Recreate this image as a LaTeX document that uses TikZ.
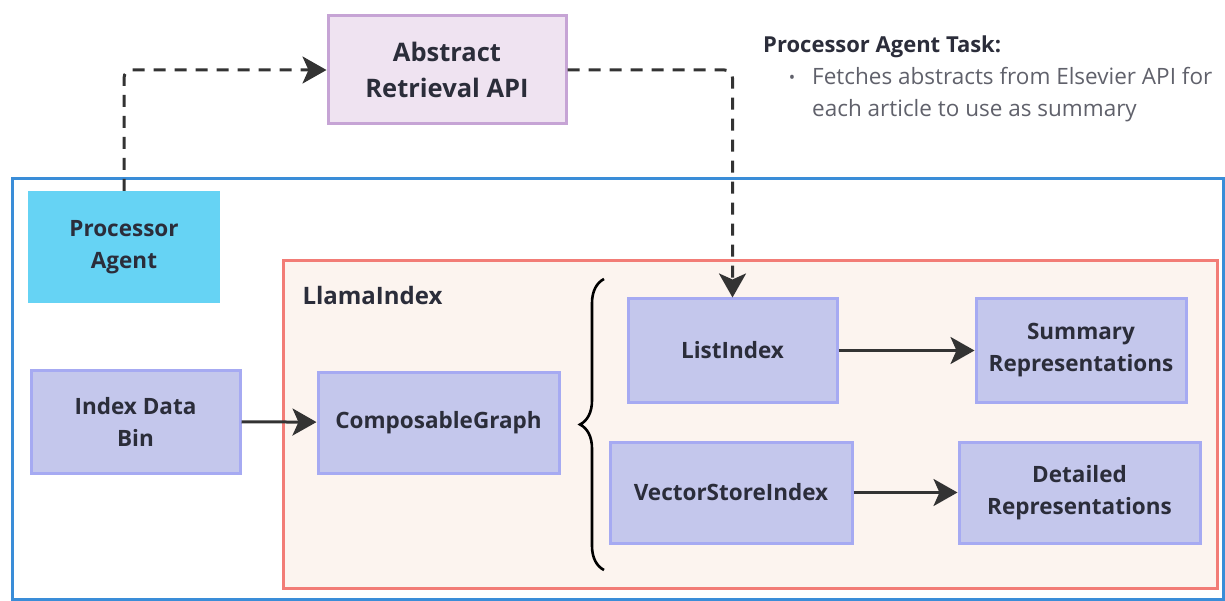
\documentclass[tikz,border=0pt]{standalone}
\usepackage{fontspec}
\setmainfont{Open Sans}
\usetikzlibrary{arrows.meta,decorations.pathreplacing}
\definecolor{outerblue}{HTML}{3A8DD8}
\definecolor{agentcyan}{HTML}{66D3F4}
\definecolor{llamared}{HTML}{F27C76}
\definecolor{llamafill}{HTML}{FCF4EF}
\definecolor{boxfill}{HTML}{C4C7EC}
\definecolor{boxborder}{HTML}{A6AAF2}
\definecolor{apifill}{HTML}{EFE3F1}
\definecolor{apiborder}{HTML}{C6A4D5}
\definecolor{ink}{HTML}{2B2D3A}
\definecolor{arrowgray}{HTML}{333333}
\tikzset{
  idxbox/.style={draw=boxborder, fill=boxfill, line width=3pt, inner sep=0pt, align=center,
    text=ink, font=\fontsize{22.5}{32}\selectfont\bfseries},
  conn/.style={draw=arrowgray, line width=3pt, -{Stealth[length=24pt,width=27pt,inset=6pt]}},
  dconn/.style={draw=arrowgray, line width=3pt, dash pattern=on 12pt off 9pt, rounded corners=8pt,
    -{Stealth[length=24pt,width=27pt,inset=6pt]}},
}
\begin{document}
\begin{tikzpicture}[x=1pt,y=-1pt]
\useasboundingbox (0,0) rectangle (1225,601);
% outer blue container
\draw[outerblue, line width=3pt] (12,179) rectangle (1223,599);
% LlamaIndex container
\draw[llamared, fill=llamafill, line width=3pt] (283,261) rectangle (1217,588);
\node[anchor=west, text=ink, font=\fontsize{24}{28}\selectfont\bfseries] (llamalabel) at (299,296) {LlamaIndex};
% Processor agent
\node[fill=agentcyan, minimum width=192pt, minimum height=112pt, inner sep=0pt, align=center,
  text=ink, font=\fontsize{22.5}{32}\selectfont\bfseries] (proc) at (124,247) {Processor\\Agent};
% Abstract retrieval API
\node[draw=apiborder, fill=apifill, line width=3pt, minimum width=238pt, minimum height=108pt, inner sep=0pt,
  align=center, text=ink, font=\fontsize{25.5}{36}\selectfont\bfseries] (api) at (447,70) {Abstract\\Retrieval API};
% task description
\node[anchor=west, inner sep=0pt, text=ink, font=\fontsize{22}{26}\selectfont\bfseries] (tasktitle) at (763,47) {Processor Agent Task:};
\node[anchor=center, text=ink!75, font=\fontsize{17}{22}\selectfont] (bullet) at (792,79) {•};
\node[anchor=west, align=left, text=ink!75, font=\fontsize{22.5}{32}\selectfont, inner sep=0pt] (taskdesc) at (812,95)
  {Fetches abstracts from Elsevier API for\\each article to use as summary};
% index boxes
\node[idxbox, minimum width=209pt, minimum height=103pt] (bin) at (135.5,421.5) {Index Data\\Bin};
\node[idxbox, minimum width=241pt, minimum height=101pt] (graph) at (438.5,422.5) {ComposableGraph};
\node[idxbox, minimum width=209pt, minimum height=103pt] (list) at (732.5,350.5) {ListIndex};
\node[idxbox, minimum width=210pt, minimum height=103pt] (summ) at (1081,350.5) {Summary\\Representations};
\node[idxbox, minimum width=242pt, minimum height=101pt] (vec) at (731,492.5) {VectorStoreIndex};
\node[idxbox, minimum width=241pt, minimum height=101pt] (det) at (1079.5,492.5) {Detailed\\Representations};
% brace
\draw[black, line width=2.6pt, decorate, decoration={brace, amplitude=24pt}] (604,570) -- (604,279);
% connectors
\draw[conn] (bin) -- (graph);
\draw[conn] (list) -- (summ);
\draw[conn] (vec) -- (det);
\draw[dconn] (proc.north) |- (api.west);
\draw[dconn] (api.east) -| (list.north);
\end{tikzpicture}
\end{document}
